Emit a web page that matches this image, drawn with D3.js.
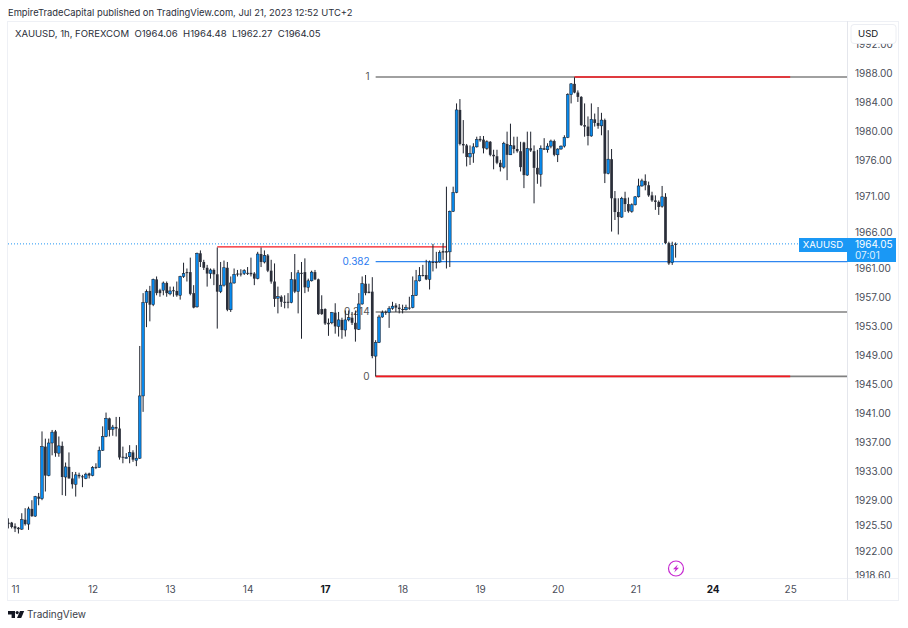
<!DOCTYPE html>
<html>
<head>
<meta charset="utf-8">
<script src="https://cdn.jsdelivr.net/npm/d3@7/dist/d3.min.js"></script>
<style>
  html, body { margin: 0; padding: 0; background: #fff; }
  svg { display: block; }
  text { font-family: Inter, "Noto Sans", sans-serif; }
</style>
</head>
<body>
<div id="chart"></div>
<script>
// XAUUSD 1h candles
const opens = [1925.9,1925.9,1925.4,1925.2,1925.0,1926.3,1925.7,1927.8,1926.8,1929.5,
  1929.2,1936.4,1932.4,1936.9,1938.5,1935.5,1936.5,1932.2,1933.6,1932.0,
  1931.2,1932.5,1932.3,1932.0,1932.7,1932.4,1933.6,1933.5,1935.9,1937.8,
  1940.3,1938.8,1939.1,1938.9,1935.0,1934.9,1935.0,1935.6,1934.5,1934.8,
  1943.4,1956.3,1957.9,1956.0,1959.5,1958.0,1958.0,1959.0,1957.5,1958.0,
  1957.9,1957.3,1959.9,1960.5,1960.5,1957.6,1955.7,1963.1,1961.9,1961.1,
  1960.3,1960.8,1960.2,1957.8,1958.7,1961.1,1955.3,1959.0,1960.3,1960.3,
  1960.3,1960.4,1960.4,1960.3,1959.6,1963.0,1961.9,1962.8,1960.7,1959.2,
  1956.9,1957.1,1956.4,1956.4,1956.3,1959.5,1957.8,1960.4,1960.5,1958.4,
  1959.3,1960.5,1959.5,1955.4,1955.4,1953.5,1953.5,1954.9,1953.0,1953.9,
  1952.5,1953.9,1954.2,1953.5,1952.6,1956.1,1958.9,1957.8,1957.8,1948.9,
  1950.8,1954.3,1955.0,1954.9,1955.5,1955.9,1955.6,1955.4,1955.3,1955.6,
  1955.6,1957.3,1959.3,1960.1,1960.1,1959.5,1961.9,1961.9,1961.9,1963.4,
  1963.4,1963.3,1968.9,1971.5,1982.9,1978.2,1978.0,1976.4,1976.9,1977.8,
  1978.9,1978.8,1977.6,1978.5,1976.7,1976.5,1975.6,1975.0,1978.2,1976.7,
  1978.0,1977.5,1977.2,1978.4,1973.9,1977.6,1977.2,1974.9,1974.0,1977.6,
  1977.4,1977.9,1978.6,1976.7,1977.5,1977.9,1979.1,1985.0,1986.5,1985.3,
  1984.7,1980.8,1980.6,1979.3,1981.6,1981.1,1980.7,1981.5,1974.1,1976.1,
  1970.7,1968.8,1968.1,1970.7,1969.9,1968.9,1969.8,1970.9,1972.4,1973.1,
  1972.5,1971.1,1970.4,1970.2,1969.6,1970.9,1964.5,1961.8,1964.4];
const highs = [1926.5,1926.0,1925.8,1925.3,1927.2,1927.9,1928.1,1929.0,1929.6,1930.0,
  1938.5,1937.5,1937.5,1938.7,1938.7,1937.8,1937.1,1934.2,1935.6,1932.9,
  1932.9,1932.8,1932.5,1932.8,1932.8,1933.7,1934.1,1936.4,1939.2,1941.1,
  1940.4,1939.4,1940.5,1940.5,1936.4,1935.5,1936.6,1935.9,1936.6,1950.3,
  1957.6,1958.1,1958.6,1959.6,1959.9,1958.2,1959.2,1959.2,1958.5,1958.5,
  1959.2,1960.0,1961.8,1961.0,1962.5,1958.7,1963.2,1963.5,1962.2,1961.5,
  1961.0,1961.0,1963.9,1961.9,1962.1,1961.9,1959.9,1961.0,1960.8,1960.9,
  1960.9,1961.2,1962.5,1960.5,1963.3,1963.9,1963.5,1963.0,1962.2,1961.7,
  1958.5,1957.3,1957.3,1957.6,1960.5,1963.0,1960.8,1961.9,1962.4,1959.6,
  1960.7,1960.8,1959.6,1957.3,1955.5,1954.1,1955.0,1956.2,1955.0,1954.2,
  1955.2,1955.2,1955.0,1955.2,1957.6,1959.9,1960.1,1958.9,1959.8,1951.1,
  1954.6,1955.2,1955.2,1955.8,1956.4,1956.2,1956.1,1956.0,1956.0,1957.1,
  1959.9,1960.8,1961.2,1961.5,1962.2,1962.1,1964.4,1963.3,1963.5,1964.5,
  1972.3,1969.0,1972.3,1983.8,1984.4,1981.5,1978.2,1978.0,1978.3,1979.2,
  1979.3,1979.3,1978.7,1978.6,1977.4,1977.4,1976.0,1978.5,1979.9,1981.0,
  1979.2,1979.2,1978.5,1978.5,1979.9,1979.9,1978.0,1977.4,1978.0,1979.0,
  1978.3,1978.8,1978.8,1977.6,1978.0,1979.4,1985.2,1986.6,1987.4,1985.6,
  1984.8,1983.8,1982.0,1983.8,1982.4,1983.3,1982.5,1981.7,1980.1,1977.5,
  1971.7,1970.7,1970.9,1971.6,1970.8,1970.0,1971.0,1973.4,1973.4,1974.0,
  1973.0,1971.6,1971.1,1970.4,1972.4,1971.4,1964.7,1964.7,1964.6];
const lows = [1925.1,1925.1,1924.6,1924.4,1924.9,1925.5,1924.9,1926.7,1926.7,1928.3,
  1929.0,1930.2,1932.3,1935.2,1935.0,1935.0,1929.7,1929.6,1932.0,1930.6,
  1929.5,1932.0,1930.8,1931.9,1932.0,1932.3,1933.3,1933.5,1935.8,1937.7,
  1937.8,1937.9,1937.8,1934.6,1934.1,1934.8,1934.1,1934.3,1933.7,1934.7,
  1941.2,1952.9,1953.7,1955.8,1957.3,1957.1,1957.3,1957.1,1957.3,1957.1,
  1957.1,1956.7,1959.7,1959.2,1957.3,1955.5,1955.6,1961.2,1960.8,1958.5,
  1959.6,1958.7,1952.7,1957.6,1958.5,1955.1,1955.0,1958.9,1959.9,1959.9,
  1960.1,1960.1,1959.9,1958.7,1959.5,1961.2,1961.7,1960.5,1958.9,1955.7,
  1954.8,1955.7,1955.5,1955.5,1956.2,1957.6,1954.8,1951.3,1957.6,1957.8,
  1959.2,1959.4,1954.6,1954.6,1953.2,1951.7,1953.3,1952.0,1951.6,1951.3,
  1951.6,1953.7,1953.2,1950.9,1952.5,1956.0,1957.3,1957.6,1948.6,1946.1,
  1950.7,1954.2,1954.6,1952.8,1955.3,1955.0,1954.8,1954.8,1955.2,1955.3,
  1955.5,1957.2,1959.2,1959.9,1959.4,1958.1,1960.6,1961.0,1961.8,1962.2,
  1961.0,1961.2,1968.8,1971.4,1978.0,1976.9,1975.1,1975.3,1975.6,1977.7,
  1978.5,1976.9,1977.4,1976.5,1974.7,1975.4,1974.4,1974.8,1973.2,1976.7,
  1976.9,1977.0,1974.4,1972.1,1973.8,1977.1,1970.0,1972.7,1972.3,1977.4,
  1977.0,1977.6,1976.5,1975.7,1977.4,1977.7,1979.0,1983.8,1985.2,1984.0,
  1980.7,1979.2,1978.0,1979.2,1980.6,1980.3,1979.4,1972.8,1974.0,1966.1,
  1967.7,1965.7,1968.0,1968.8,1968.7,1968.7,1969.7,1970.8,1972.3,1971.8,
  1970.9,1970.2,1969.1,1968.4,1969.4,1964.4,1961.5,1961.5,1962.5];
const closes = [1925.7,1925.3,1925.1,1925.0,1926.3,1925.7,1927.8,1926.8,1929.5,1929.2,
  1936.4,1932.4,1936.9,1938.4,1935.5,1936.5,1932.2,1933.6,1932.0,1931.2,
  1932.5,1932.3,1932.2,1932.6,1932.4,1933.5,1933.5,1935.9,1937.8,1940.3,
  1938.7,1939.1,1938.9,1934.9,1934.9,1934.9,1935.6,1934.6,1934.8,1943.4,
  1956.3,1957.8,1956.0,1959.5,1957.6,1957.6,1959.0,1957.6,1957.9,1957.9,
  1957.3,1959.9,1960.3,1960.4,1957.5,1955.6,1963.1,1961.9,1961.1,1960.3,
  1960.8,1960.2,1957.8,1958.7,1961.1,1955.3,1959.0,1960.2,1960.2,1960.2,
  1960.7,1960.3,1960.2,1959.6,1963.0,1961.9,1962.8,1960.7,1959.2,1956.8,
  1957.1,1956.4,1956.3,1956.3,1959.5,1957.8,1960.4,1960.3,1958.4,1959.3,
  1960.5,1959.5,1954.7,1954.7,1953.4,1953.3,1954.9,1953.0,1953.9,1952.5,
  1953.9,1954.2,1953.5,1952.6,1956.1,1958.9,1957.6,1957.6,1948.9,1950.8,
  1954.3,1954.9,1954.9,1955.5,1955.8,1955.6,1955.4,1955.3,1955.6,1955.5,
  1957.3,1959.3,1960.0,1960.0,1959.5,1961.9,1961.8,1961.8,1963.2,1963.2,
  1963.2,1968.9,1971.5,1982.9,1978.2,1978.0,1976.4,1976.9,1977.8,1978.8,
  1978.7,1977.6,1978.5,1976.7,1976.5,1975.6,1975.0,1978.3,1976.7,1978.0,
  1977.5,1977.2,1975.0,1973.9,1977.6,1977.3,1974.9,1974.0,1977.6,1977.4,
  1977.9,1978.6,1976.7,1977.5,1977.9,1979.1,1985.0,1986.5,1985.3,1984.7,
  1980.8,1980.6,1979.3,1981.6,1981.1,1980.7,1981.5,1974.1,1976.1,1970.7,
  1968.8,1968.1,1970.7,1969.9,1968.9,1969.8,1970.9,1972.4,1973.1,1972.5,
  1971.1,1970.4,1970.2,1969.5,1970.9,1964.5,1961.7,1964.2,1964.3];

// price axis
const priceTicks = [1992,1988,1984,1980,1976,1971,1966,1961,1957,1953,1949,1945,1941,1937,1933,1929,1925.5,1922,1918.6];

// time axis, bar index of each day start
const dayIndex = [2,25,48,71,94,117,140,163,186,209,232];
const dayLabels = ["11","12","13","14","17","18","19","20","21","24","25"];
const boldDays = ["17","24"];

// fib drawing
const fibLevels = [1,0.382,0.214,0];
const fibLabels = ["1","0.382","0.214","0"];
const fibPrices = [1987.45,1961.95,1955.0,1946.1];
const fibStart = 109, redEnd = 232;
const topRedStart = 168;
// the red level to the left of the big move
const boxPrice = 1964.0, boxStart = 62, boxEnd = 130;

const lastLine = 1964.4;
const lastLabel = "1964.05", countdown = "07:01", symbol = "XAUUSD";

const W = 908, H = 628;
const pane = {left: 8, right: 847, top: 21, bottom: 578};

const svg = d3.select("#chart").append("svg")
    .attr("width", W)
    .attr("height", H);

const x = d3.scaleLinear().domain([0, 198]).range([8.3, 675.6]);
const y = d3.scaleLinear().domain([1988, 1918.6]).range([73, 575.5]);

// frame
const frameColor = "#eef0f5";
svg.append("rect")
    .attr("x", 7.5).attr("y", pane.top + .5)
    .attr("width", 891).attr("height", 579)
    .attr("fill", "none").attr("stroke", frameColor);
svg.append("line")
    .attr("x1", 7.5).attr("x2", 899)
    .attr("y1", pane.bottom + .5).attr("y2", pane.bottom + .5)
    .attr("stroke", frameColor);
svg.append("line")
    .attr("x1", pane.right + .5).attr("x2", pane.right + .5)
    .attr("y1", pane.top).attr("y2", 600)
    .attr("stroke", "#e4e6ec");

svg.append("defs").append("clipPath").attr("id", "paneClip")
    .append("rect")
    .attr("x", pane.left).attr("y", pane.top)
    .attr("width", pane.right - pane.left).attr("height", pane.bottom - pane.top);
svg.select("defs").append("clipPath").attr("id", "axisClip")
    .append("rect")
    .attr("x", pane.right).attr("y", pane.top)
    .attr("width", 52).attr("height", pane.bottom - pane.top);

const plot = svg.append("g").attr("clip-path", "url(#paneClip)");

// last price line goes under everything
plot.append("line")
    .attr("x1", pane.left).attr("x2", pane.right)
    .attr("y1", y(lastLine)).attr("y2", y(lastLine))
    .attr("stroke", "#2196f3")
    .attr("stroke-width", 1)
    .attr("stroke-dasharray", "1 2");

// fib lines, gray past the red parts
const gray = "#808080", red = "#f5181f", blue = "#2f86f0";
function hline(price, from, to, color, width) {
    plot.append("line")
        .attr("x1", from).attr("x2", to)
        .attr("y1", y(price)).attr("y2", y(price))
        .attr("stroke", color)
        .attr("stroke-width", width);
}
hline(fibPrices[0], x(fibStart), pane.right, gray, 1.6);
hline(fibPrices[0], x(topRedStart), x(redEnd), red, 1.6);
hline(fibPrices[1], x(fibStart), pane.right, blue, 1.2);
hline(fibPrices[2], x(fibStart), pane.right, gray, 1.6);
hline(fibPrices[3], x(fibStart), pane.right, gray, 1.6);
hline(fibPrices[3], x(fibStart), x(redEnd), red, 1.6);
hline(boxPrice, x(boxStart), x(boxEnd), red, 1.2);

fibLabels.forEach((d, i) => {
    plot.append("text")
        .attr("x", x(fibStart) - 6)
        .attr("y", y(fibPrices[i]))
        .attr("dy", ".35em")
        .attr("text-anchor", "end")
        .attr("font-size", 10)
        .attr("fill", fibLevels[i] === 0.382 ? "#2b7bf0" : "#555")
        .text(d);
});

// candles
const barWidth = 2.7;
const bars = plot.selectAll(".bar")
    .data(d3.range(opens.length))
    .enter().append("g")
    .attr("class", "bar");

bars.append("line")
    .attr("x1", i => x(i)).attr("x2", i => x(i))
    .attr("y1", i => y(highs[i])).attr("y2", i => y(lows[i]))
    .attr("stroke", "#1e222d")
    .attr("stroke-width", 1);

bars.append("rect")
    .attr("x", i => x(i) - barWidth / 2)
    .attr("width", barWidth)
    .attr("y", i => y(Math.max(opens[i], closes[i])))
    .attr("height", i => Math.max(1, Math.abs(y(opens[i]) - y(closes[i]))))
    .attr("fill", i => closes[i] >= opens[i] ? "#0889ec" : "#2a2e39")
    .attr("stroke", i => closes[i] >= opens[i] ? "#131722" : "none")
    .attr("stroke-width", .5);

// price axis
const axisColor = "#4a4e59";
const yAxis = d3.axisRight(y)
    .tickValues(priceTicks)
    .tickSize(0)
    .tickPadding(0)
    .tickFormat(d3.format(".2f"));
const yG = svg.append("g")
    .attr("clip-path", "url(#axisClip)")
    .append("g")
    .attr("transform", "translate(" + (pane.right + 8) + ",0)")
    .call(yAxis);
yG.select(".domain").remove();
yG.selectAll("text")
    .attr("font-family", "Inter, 'Noto Sans', sans-serif")
    .attr("font-size", 10)
    .attr("fill", axisColor);

// time axis
const xAxis = d3.axisBottom(x)
    .tickValues(dayIndex)
    .tickSize(0)
    .tickPadding(0)
    .tickFormat((d, i) => dayLabels[i]);
const xG = svg.append("g")
    .attr("transform", "translate(0," + (pane.bottom + 8) + ")")
    .call(xAxis);
xG.select(".domain").remove();
xG.selectAll("text")
    .attr("font-family", "Inter, 'Noto Sans', sans-serif")
    .attr("font-size", 10)
    .attr("fill", (d, i) => boldDays.includes(dayLabels[i]) ? "#131722" : axisColor)
    .attr("font-weight", (d, i) => boldDays.includes(dayLabels[i]) ? 700 : 400);

// USD button
svg.append("rect")
    .attr("x", 851).attr("y", 24.5)
    .attr("width", 45).attr("height", 19)
    .attr("rx", 3)
    .attr("fill", "#fff").attr("stroke", "#eceef3");
svg.append("text")
    .attr("x", 858).attr("y", 37)
    .attr("font-size", 9.6)
    .attr("fill", "#131722")
    .text("USD");

// last price badges
const badge = "#1a98f5";
svg.append("rect").attr("x", 799).attr("y", 238).attr("width", 48).attr("height", 14).attr("fill", badge);
svg.append("rect").attr("x", 847).attr("y", 238).attr("width", 49).attr("height", 24).attr("fill", badge);
svg.append("text").attr("x", 823).attr("y", 245).attr("dy", ".35em")
    .attr("text-anchor", "middle").attr("font-size", 9.6).attr("fill", "#fff").text(symbol);
svg.append("text").attr("x", 855).attr("y", 244.5).attr("dy", ".35em")
    .attr("font-size", 10).attr("fill", "#fff").text(lastLabel);
svg.append("text").attr("x", 855).attr("y", 255.5).attr("dy", ".35em")
    .attr("font-size", 10).attr("fill", "#dff1ff").text(countdown);

// headers
svg.append("text")
    .attr("x", 8).attr("y", 16)
    .attr("font-size", 9.4)
    .attr("fill", "#2a2e39")
    .text("EmpireTradeCapital published on TradingView.com, Jul 21, 2023 12:52 UTC+2");
svg.append("text")
    .attr("x", 15).attr("y", 37)
    .attr("font-size", 9.55)
    .attr("fill", "#2a2e39")
    .attr("xml:space", "preserve")
    .style("white-space", "pre")
    .text("XAUUSD, 1h, FOREXCOM  O1964.06  H1964.48  L1962.27  C1964.05");

// lightning icon
const icon = svg.append("g").attr("transform", "translate(676,568.5)");
icon.append("circle").attr("r", 7.5).attr("fill", "#fff").attr("stroke", "#c62ad1").attr("stroke-width", 1.2);
icon.append("path").attr("d", "M1.8,-4 L-3,0.8 L-0.4,0.8 L-1.8,4 L3,-0.8 L0.4,-0.8 Z").attr("fill", "#c62ad1");

// tradingview logo
const logo = svg.append("g").attr("fill", "#131722");
logo.append("path").attr("d", "M8,611 h7 v7 h-3.4 v-3.6 H8 Z");
logo.append("circle").attr("cx", 17.2).attr("cy", 612.6).attr("r", 1.6);
logo.append("path").attr("d", "M20,611 h4.2 l-3,7 h-4.2 Z");
svg.append("text")
    .attr("x", 27).attr("y", 618)
    .attr("font-size", 10)
    .attr("fill", "#3a3e49")
    .text("TradingView");
</script>
</body>
</html>
